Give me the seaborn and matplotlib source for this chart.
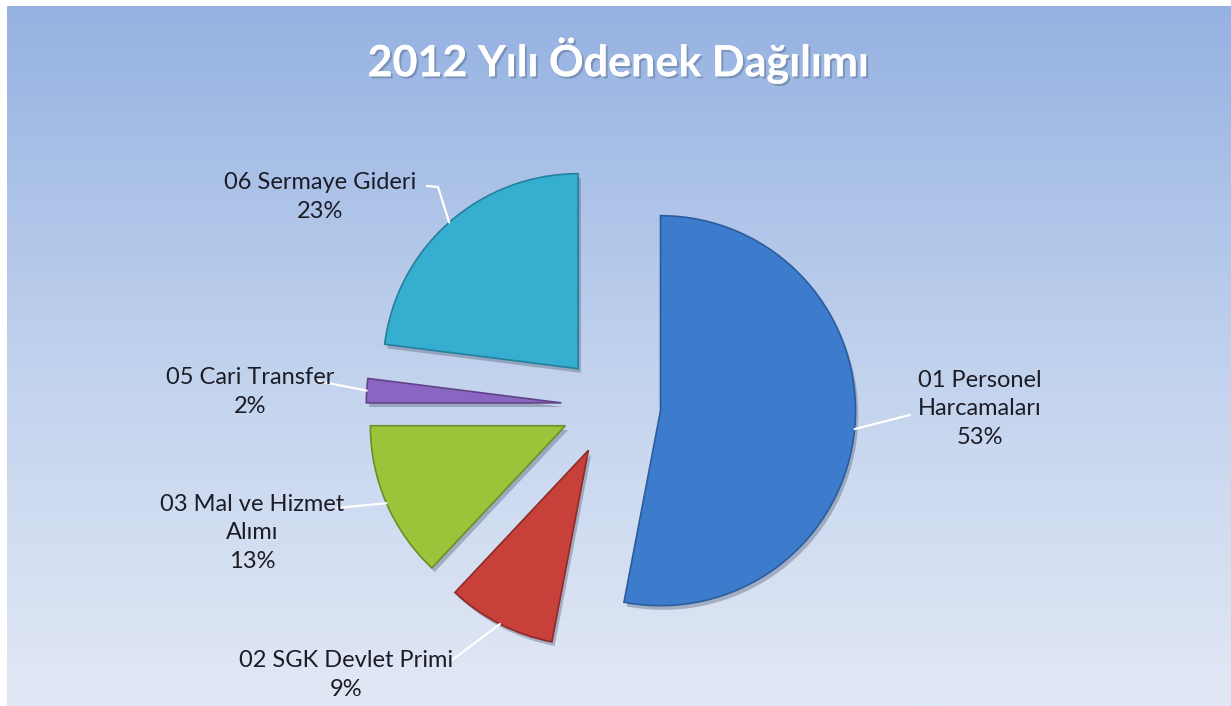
import numpy as np
import matplotlib

matplotlib.use("Agg")
import seaborn as sns
import matplotlib.pyplot as plt
import matplotlib.patheffects as pe
from matplotlib.colors import LinearSegmentedColormap

# data
categories = [
    "01 Personel\nHarcamaları",
    "02 SGK Devlet Primi",
    "03 Mal ve Hizmet\nAlımı",
    "05 Cari Transfer",
    "06 Sermaye Gideri",
]
shares = [53, 9, 13, 2, 23]
slice_colors = ["#3d7bcd", "#c8403a", "#9cc43a", "#8a66c2", "#35aed0"]
edge_colors = ["#2b5d9c", "#8e2a27", "#6f8e26", "#5f4488", "#24809c"]

title = "2012 Yılı Ödenek Dağılımı"

# label layout (data units, pie radius = 1)
label_pos = [(1.89, -0.015), (-1.36, -1.38), (-1.84, -0.65), (-1.85, 0.072), (-1.49, 1.072)]
leader_end = [
    [(1.533, -0.046)],
    [(-0.815, -1.303)],
    [(-1.405, -0.523)],
    [(-1.503, 0.128)],
    [(-0.887, 1.123), (-0.944, 1.128)],
]

sns.set_theme(style="white")
plt.rcParams["font.family"] = ["Lato", "DejaVu Sans"]

W, H = 1231, 706
fig = plt.figure(figsize=(W / 100, H / 100), dpi=100)
fig.patch.set_facecolor("white")

# gradient background
bg = fig.add_axes([7 / W, 0, 1 - 7 / W, 1 - 6 / H], zorder=0)
cmap = LinearSegmentedColormap.from_list(
    "bg", [(0, "#96b2e2"), (0.55, "#c4d4ee"), (1, "#e2e8f5")]
)
bg.imshow(np.linspace(0, 1, 256)[:, None], aspect="auto", cmap=cmap, extent=(0, 1, 1, 0))
bg.set_axis_off()

ax = fig.add_axes([0, 0, 1, 1], zorder=1)
ax.patch.set_alpha(0)

explode = [0.255] * len(shares)
wedges, _ = ax.pie(
    shares,
    colors=slice_colors,
    startangle=90,
    counterclock=False,
    explode=explode,
    radius=1,
    wedgeprops=dict(linewidth=1.2),
)
for w, ec in zip(wedges, edge_colors):
    w.set_edgecolor(ec)
    w.set_path_effects([
        pe.SimplePatchShadow(offset=(2, -3), shadow_rgbFace="#44506a", alpha=0.35),
        pe.Normal(),
    ])

total = sum(shares)
for i, w in enumerate(wedges):
    mid = np.deg2rad((w.theta1 + w.theta2) / 2)
    cx, cy = w.center
    anchor = (cx + w.r * np.cos(mid), cy + w.r * np.sin(mid))
    xs, ys = zip(*([anchor] + leader_end[i]))
    ax.plot(xs, ys, color="white", lw=1.6, solid_capstyle="round", zorder=3)
    pct = round(shares[i] / total * 100)
    ax.text(
        *label_pos[i],
        f"{categories[i]}\n{pct}%",
        ha="center",
        va="center",
        multialignment="center",
        fontsize=17,
        color="#1c1c26",
        linespacing=1.45,
        zorder=4,
    )

ax.set_xlim(-611 / 195, (W - 611) / 195)
ax.set_ylim(-(H - 406) / 195, 406 / 195)
ax.set_aspect("auto")
ax.set_axis_off()

fig.text(
    618 / W,
    1 - 60 / H,
    title,
    ha="center",
    va="center",
    fontsize=31,
    fontweight="bold",
    color="white",
    path_effects=[pe.withSimplePatchShadow(offset=(1.5, -1.5), shadow_rgbFace="#5a6f90", alpha=0.5), pe.Normal()],
    zorder=5,
)

fig.savefig("out.png", dpi=100)
plt.close(fig)
